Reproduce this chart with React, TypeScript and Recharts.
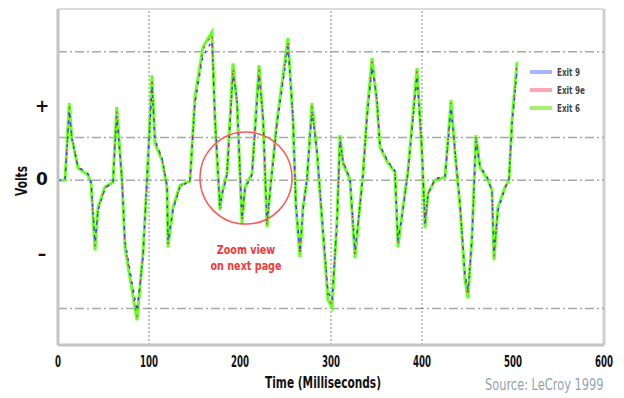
import {
  LineChart,
  Line,
  XAxis,
  YAxis,
  ReferenceLine,
  ReferenceDot,
} from 'recharts'

const timeMs = [
  0, 7.7, 12.4, 15.1, 22, 33, 36.3, 40.7, 44, 51.6,
  60.4, 64.5, 70.3, 73.6, 86.8, 93.4, 97.8, 103.3, 106.6, 114.3,
  119.8, 120.9, 126.4, 134.1, 145, 150.5, 159.3, 169.2, 172.5, 178,
  180.2, 185.7, 192.3, 196.7, 202.2, 205.5, 213.2, 220.9, 225.3, 229.7,
  233, 240.7, 252.7, 258.2, 261.5, 265.9, 269.2, 273.6, 279.1, 284.6,
  290.1, 296.7, 301.1, 306.6, 309.9, 313.2, 320.9, 326.4, 331.9, 335.2,
  339.6, 345.1, 350.5, 353.8, 362.6, 370.3, 373.6, 379.1, 384.6, 394.5,
  400, 403.3, 406.6, 414.3, 425.3, 431.9, 436.3, 441.8, 447.3, 450.5,
  454.9, 459.3, 463.7, 472.5, 476.9, 479.1, 483.5, 491.2, 495.6, 498.9, 504.4,
]

const exit9 = [
  0, 0, 1.62, 0.98, 0.32, 0.15, -0.04, -1.45, -0.7, -0.2,
  -0.03, 1.5, 0.03, -1.42, -3.05, -1.8, 0.03, 2.2, 0.95, 0.52,
  -0.12, -1.42, -0.7, -0.15, -0.02, 1.8, 2.9, 3.25, 1.5, -0.6,
  -0.34, 0.12, 2.45, 1.9, -0.88, -0.2, 0.12, 2.45, 1.5, -0.96,
  -0.28, 1.3, 3.12, 1.5, -0.56, -1.66, -0.7, 0.04, 1.6, 0.7,
  -0.85, -2.6, -2.8, -1.0, 0.92, 0.44, 0.04, -1.65, -0.58, 0.12,
  1.45, 2.62, 1.9, 0.82, 0.44, 0.22, -1.42, -0.7, 0.18, 2.42,
  0.7, -1.0, -0.34, 0.04, 0.09, 1.68, 0.7, -0.56, -2.2, -2.58,
  -1.4, 0.92, 0.34, 0.04, -0.27, -1.7, -0.7, -0.2, 0.04, 1.3, 2.55,
]

const exit9e = [
  0, 0, 1.72, 1.02, 0.3, 0.14, -0.05, -1.55, -0.66, -0.18,
  -0.04, 1.62, 0.02, -1.5, -3.2, -1.75, 0.02, 2.38, 0.9, 0.5,
  -0.14, -1.5, -0.66, -0.14, -0.02, 1.9, 3.05, 3.4, 1.45, -0.66,
  -0.32, 0.14, 2.62, 1.85, -0.95, -0.18, 0.14, 2.6, 1.45, -1.04,
  -0.25, 1.36, 3.25, 1.46, -0.6, -1.75, -0.66, 0.02, 1.72, 0.66,
  -0.9, -2.72, -2.92, -0.96, 1.0, 0.42, 0.02, -1.75, -0.56, 0.14,
  1.52, 2.78, 1.85, 0.8, 0.42, 0.2, -1.5, -0.66, 0.2, 2.55,
  0.66, -1.06, -0.32, 0.02, 0.08, 1.8, 0.66, -0.6, -2.28, -2.7,
  -1.36, 1.0, 0.32, 0.02, -0.25, -1.8, -0.66, -0.18, 0.02, 1.36, 2.7,
]

const exit6 = [
  0, 0, 1.8, 1.0, 0.28, 0.12, -0.07, -1.64, -0.63, -0.16,
  -0.05, 1.71, 0, -1.57, -3.27, -1.71, 0, 2.45, 0.86, 0.47,
  -0.16, -1.57, -0.63, -0.12, -0.02, 1.94, 3.11, 3.46, 1.4, -0.7,
  -0.3, 0.16, 2.73, 1.8, -1.0, -0.16, 0.16, 2.69, 1.4, -1.1,
  -0.23, 1.4, 3.32, 1.4, -0.63, -1.8, -0.63, 0, 1.8, 0.63,
  -0.93, -2.8, -2.97, -0.93, 1.05, 0.4, 0, -1.82, -0.54, 0.16,
  1.57, 2.85, 1.8, 0.77, 0.4, 0.19, -1.57, -0.63, 0.23, 2.62,
  0.63, -1.12, -0.3, 0, 0.07, 1.87, 0.63, -0.63, -2.34, -2.76,
  -1.33, 1.05, 0.3, 0, -0.23, -1.87, -0.63, -0.16, 0, 1.4, 2.76,
]

const xTicks = [0, 100, 200, 300, 400, 500, 600]
const yTicks = [1.7, 0, -1.75]
const yTickLabels: Record<string, string> = { '1.7': '+', '0': '0', '-1.75': '\u2013' }
const hGrid = [3, 1, 0, -3]
const vGrid = [100, 300, 400]

const series = [
  { key: 'exit9', name: 'Exit 9', legendColor: '#a8b4ff' },
  { key: 'exit9e', name: 'Exit 9e', legendColor: '#ffa8b4' },
  { key: 'exit6', name: 'Exit 6', legendColor: '#a8f070' },
]

const data = timeMs.map((t, i) => ({
  t,
  exit9: exit9[i],
  exit9e: exit9e[i],
  exit6: exit6[i],
}))

const font = "'DejaVu Sans', sans-serif"

function XTick(props: any) {
  const { x, y, payload } = props
  const label = String(payload.value)
  return (
    <text
      x={x}
      y={y}
      dy={12}
      textAnchor="middle"
      fontFamily={font}
      fontWeight="bold"
      fontSize={16}
      fill="#111"
      textLength={label.length * 6}
      lengthAdjust="spacingAndGlyphs"
    >
      {label}
    </text>
  )
}

function YTick(props: any) {
  const { y, payload } = props
  return (
    <text
      x={42}
      y={y}
      dy={5}
      textAnchor="middle"
      fontFamily={font}
      fontWeight="bold"
      fontSize={17}
      fill="#111"
    >
      {yTickLabels[String(payload.value)]}
    </text>
  )
}

function XTitle() {
  return (
    <text
      x={323}
      y={388}
      textAnchor="middle"
      fontFamily={font}
      fontWeight="bold"
      fontSize={16}
      fill="#111"
      textLength={116}
      lengthAdjust="spacingAndGlyphs"
    >
      Time (Milliseconds)
    </text>
  )
}

function YTitle() {
  return (
    <text
      x={27}
      y={181}
      transform="rotate(-90 27 181)"
      textAnchor="middle"
      fontFamily={font}
      fontWeight="bold"
      fontSize={15}
      fill="#111"
      textLength={30}
      lengthAdjust="spacingAndGlyphs"
    >
      Volts
    </text>
  )
}

export default function App() {
  return (
    <div style={{ position: 'absolute', left: 0, top: 0, width: 624, height: 398, background: '#fff' }}>
      <LineChart
        width={624}
        height={398}
        data={data}
        margin={{ top: 9, right: 20, left: 0, bottom: 0 }}
      >
        <XAxis
          dataKey="t"
          type="number"
          domain={[0, 600]}
          ticks={xTicks}
          tickLine={false}
          axisLine={{ stroke: '#c4c4c4', strokeWidth: 3 }}
          tick={<XTick />}
          tickMargin={4}
          height={53}
          interval={0}
          label={{ content: <XTitle /> }}
        />
        <YAxis
          type="number"
          domain={[-3.85, 4]}
          ticks={yTicks}
          tickLine={false}
          axisLine={{ stroke: '#c4c4c4', strokeWidth: 3 }}
          tick={<YTick />}
          width={58}
          label={{ content: <YTitle /> }}
        />
        <ReferenceLine y={4} stroke="#dcdcdc" strokeWidth={2} />
        <ReferenceLine x={600} stroke="#cfcfcf" strokeWidth={3} />
        {hGrid.map((v) => (
          <ReferenceLine key={'h' + v} y={v} stroke="#a8a8a8" strokeWidth={1.5} strokeDasharray="9 3 2 3" />
        ))}
        {vGrid.map((v) => (
          <ReferenceLine key={'v' + v} x={v} stroke="#888" strokeWidth={1} strokeDasharray="2 2" />
        ))}
        <Line
          dataKey="exit6"
          name="Exit 6"
          stroke="#66ff22"
          strokeWidth={3}
          dot={false}
          type="linear"
          isAnimationActive={false}
        />
        <Line
          dataKey="exit9e"
          name="Exit 9e"
          stroke="#cc3333"
          strokeWidth={1.2}
          strokeDasharray="2 7"
          dot={false}
          type="linear"
          isAnimationActive={false}
        />
        <Line
          dataKey="exit9"
          name="Exit 9"
          stroke="#3344ee"
          strokeWidth={1.4}
          strokeDasharray="3 5"
          dot={false}
          type="linear"
          isAnimationActive={false}
        />
        <ReferenceDot
          x={206.6}
          y={0.05}
          r={46}
          fill="none"
          stroke="#ff5555"
          strokeWidth={1.5}
        />
      </LineChart>
      <div
        style={{
          position: 'absolute',
          left: 530,
          top: 63,
          fontFamily: font,
          fontWeight: 'bold',
          fontSize: 10,
          color: '#444',
        }}
      >
        {series.map((s) => (
          <div key={s.key} style={{ display: 'flex', alignItems: 'center', height: 18 }}>
            <span
              style={{
                display: 'inline-block',
                width: 22,
                height: 4,
                background: s.legendColor,
                marginRight: 5,
              }}
            />
            <span style={{ display: 'inline-block', transform: 'scaleX(0.72)', transformOrigin: 'left center' }}>
              {s.name}
            </span>
          </div>
        ))}
      </div>
      <div
        style={{
          position: 'absolute',
          left: 196,
          top: 242,
          width: 100,
          textAlign: 'center',
          fontFamily: font,
          fontWeight: 'bold',
          fontSize: 12,
          lineHeight: '16px',
          color: '#ee3b3b',
          transform: 'scaleX(0.8)',
          transformOrigin: '50px 0',
        }}
      >
        Zoom view
        <br />
        on next page
      </div>
      <div
        style={{
          position: 'absolute',
          left: 485,
          top: 376,
          fontFamily: font,
          fontSize: 15,
          color: '#8fa4b3',
          whiteSpace: 'nowrap',
          transform: 'scaleX(0.76)',
          transformOrigin: 'left top',
        }}
      >
        Source: LeCroy 1999
      </div>
    </div>
  )
}
